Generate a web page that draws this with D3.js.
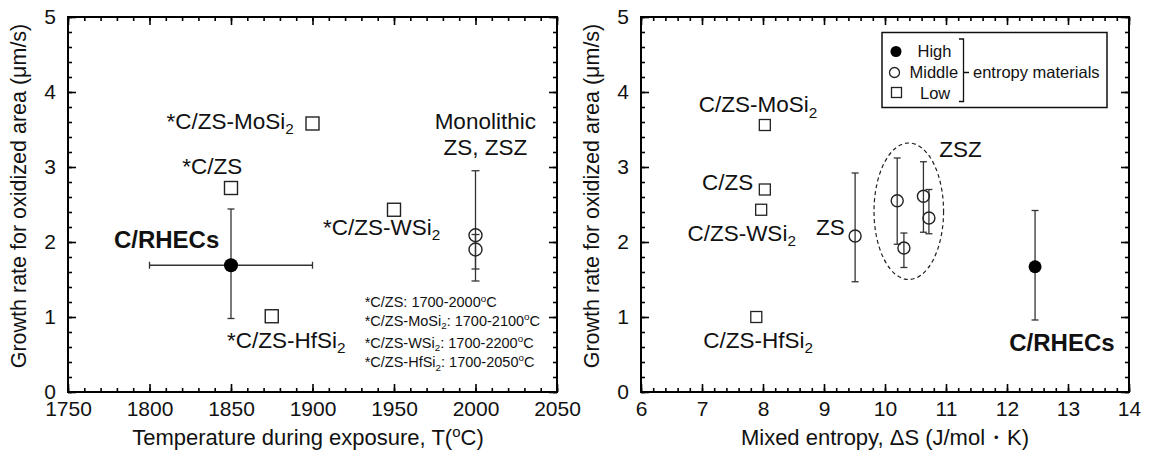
<!DOCTYPE html>
<html>
<head>
<meta charset="utf-8">
<script src="https://cdn.jsdelivr.net/npm/d3@7"></script>
<style>
  body { margin: 0; background: #fff; }
  text { font-family: "Liberation Sans", Arial, sans-serif; fill: #111; }
</style>
</head>
<body>
<svg id="fig"></svg>
<script>
// ---- left panel: growth rate vs exposure temperature ----
var tempLowNames = ["*C/ZS", "*C/ZS-MoSi_2", "*C/ZS-WSi_2", "*C/ZS-HfSi_2"];
var tempLowX = [1850, 1900, 1950, 1875];
var tempLowY = [2.72, 3.58, 2.43, 1.01];
var tempMidX = [2000, 2000];
var tempMidY = [2.09, 1.90];
var tempMidLo = [1.48, 1.64];
var tempMidHi = [2.95, 2.10];
var tempHighX = [1850];
var tempHighY = [1.69];
var tempHighXLo = [1800];
var tempHighXHi = [1900];
var tempHighYLo = [0.98];
var tempHighYHi = [2.44];
var tempTicks = [1750, 1800, 1850, 1900, 1950, 2000, 2050];
var notes = ["*C/ZS: 1700-2000^oC", "*C/ZS-MoSi_2: 1700-2100^oC", "*C/ZS-WSi_2: 1700-2200^oC", "*C/ZS-HfSi_2: 1700-2050^oC"];

// ---- right panel: growth rate vs mixed entropy ----
var entLowNames = ["C/ZS-MoSi_2", "C/ZS", "C/ZS-WSi_2", "C/ZS-HfSi_2"];
var entLowX = [8.03, 8.03, 7.97, 7.89];
var entLowY = [3.56, 2.70, 2.43, 1.00];
var entMidX = [9.51, 10.20, 10.31, 10.63, 10.72];
var entMidY = [2.08, 2.55, 1.92, 2.61, 2.32];
var entMidLo = [1.47, 1.97, 1.66, 2.13, 2.11];
var entMidHi = [2.92, 3.12, 2.12, 3.07, 2.70];
var entHighX = [12.46];
var entHighY = [1.67];
var entHighLo = [0.96];
var entHighHi = [2.42];
var entTicks = [6, 7, 8, 9, 10, 11, 12, 13, 14];

var rateTicks = [0, 1, 2, 3, 4, 5];

var W = 1149, H = 451;
var svg = d3.select("#fig").attr("width", W).attr("height", H);
svg.append("rect").attr("width", W).attr("height", H).attr("fill", "#fff");

var plotTop = 17, plotBottom = 392;
var ink = "#222";
var labelSize = 22.5;

// text with _sub and ^sup pieces
function rich(g, str, x, y, size, anchor, weight) {
    var t = g.append("text").attr("x", x).attr("y", y)
        .attr("text-anchor", anchor || "start")
        .style("font-size", size + "px")
        .style("font-weight", weight || "normal");
    var parts = str.split(/([_^].)/);
    var shift = 0;
    parts.forEach(function(p) {
        if (p === "") return;
        if (p[0] === "_" || p[0] === "^") {
            var d = p[0] === "_" ? size * 0.25 : -size * 0.38;
            t.append("tspan").attr("dy", d).style("font-size", (size * 0.68) + "px").text(p[1]);
            shift = -d;
        } else {
            var s = t.append("tspan").text(p);
            if (shift) s.attr("dy", shift);
            shift = 0;
        }
    });
    return t;
}

function panel(x0, x1, xDomain, xTicks, xMinorStep) {
    var x = d3.scaleLinear().domain(xDomain).range([x0, x1]);
    var y = d3.scaleLinear().domain([0, 5]).range([plotBottom, plotTop]);
    var g = svg.append("g");

    var xMinor = d3.range(xDomain[0], xDomain[1] + 1e-9, xMinorStep);
    var yMinor = d3.range(0, 5 + 1e-9, 0.2);

    // minor ticks on all sides
    g.append("g").attr("transform", "translate(0," + plotBottom + ")")
        .call(d3.axisBottom(x).tickValues(xMinor).tickSize(-4).tickFormat(""));
    g.append("g").attr("transform", "translate(0," + plotTop + ")")
        .call(d3.axisTop(x).tickValues(xMinor).tickSize(-4).tickFormat(""));
    g.append("g").attr("transform", "translate(" + x0 + ",0)")
        .call(d3.axisLeft(y).tickValues(yMinor).tickSize(-4).tickFormat(""));
    g.append("g").attr("transform", "translate(" + x1 + ",0)")
        .call(d3.axisRight(y).tickValues(yMinor).tickSize(-4).tickFormat(""));

    // major ticks + labels
    g.append("g").attr("transform", "translate(0," + plotBottom + ")")
        .call(d3.axisBottom(x).tickValues(xTicks).tickSize(-8).tickPadding(9).tickFormat(d3.format("d")));
    g.append("g").attr("transform", "translate(0," + plotTop + ")")
        .call(d3.axisTop(x).tickValues(xTicks).tickSize(-8).tickFormat(""));
    g.append("g").attr("transform", "translate(" + x0 + ",0)")
        .call(d3.axisLeft(y).tickValues(rateTicks).tickSize(-8).tickPadding(12).tickFormat(d3.format("d")));
    g.append("g").attr("transform", "translate(" + x1 + ",0)")
        .call(d3.axisRight(y).tickValues(rateTicks).tickSize(-8).tickFormat(""));

    g.selectAll(".domain").remove();
    g.selectAll(".tick line").attr("stroke", "#000").attr("stroke-width", 1.6);
    g.selectAll(".tick text").style("font-size", "21px").attr("fill", "#111")
        .style("font-family", '"Liberation Sans", Arial, sans-serif');

    g.append("rect").attr("x", x0).attr("y", plotTop).attr("width", x1 - x0).attr("height", plotBottom - plotTop)
        .attr("fill", "none").attr("stroke", "#000").attr("stroke-width", 2);

    // y title
    g.append("text")
        .attr("transform", "translate(" + (x0 - 42) + "," + 196 + ") rotate(-90)")
        .attr("text-anchor", "middle")
        .style("font-size", "21.5px")
        .text("Growth rate for oxidized area (\u03bcm/s)");

    return { g: g, x: x, y: y };
}

function vbar(g, x, y, xv, lo, hi, cap) {
    g.append("line").attr("x1", x(xv)).attr("x2", x(xv)).attr("y1", y(lo)).attr("y2", y(hi))
        .attr("stroke", "#333").attr("stroke-width", 1.3);
    [lo, hi].forEach(function(v) {
        g.append("line").attr("x1", x(xv) - cap).attr("x2", x(xv) + cap).attr("y1", y(v)).attr("y2", y(v))
            .attr("stroke", "#333").attr("stroke-width", 1.3);
    });
}

function hbar(g, x, y, yv, lo, hi, cap) {
    g.append("line").attr("x1", x(lo)).attr("x2", x(hi)).attr("y1", y(yv)).attr("y2", y(yv))
        .attr("stroke", "#333").attr("stroke-width", 1.3);
    [lo, hi].forEach(function(v) {
        g.append("line").attr("x1", x(v)).attr("x2", x(v)).attr("y1", y(yv) - cap).attr("y2", y(yv) + cap)
            .attr("stroke", "#333").attr("stroke-width", 1.3);
    });
}

// ================= left panel =================
var L = panel(68, 557, [1750, 2050], tempTicks, 10);
var gl = L.g, xl = L.x, yl = L.y;

tempMidX.forEach(function(v, i) { vbar(gl, xl, yl, v, tempMidLo[i], tempMidHi[i], 4); });
hbar(gl, xl, yl, tempHighY[0], tempHighXLo[0], tempHighXHi[0], 3.5);
vbar(gl, xl, yl, tempHighX[0], tempHighYLo[0], tempHighYHi[0], 3.5);

gl.selectAll(".low").data(tempLowX).enter().append("rect")
    .attr("x", function(d) { return xl(d) - 6.5; })
    .attr("y", function(d, i) { return yl(tempLowY[i]) - 6.5; })
    .attr("width", 13).attr("height", 13)
    .attr("fill", "#fff").attr("stroke", ink).attr("stroke-width", 1.4);

gl.selectAll(".mid").data(tempMidX).enter().append("circle")
    .attr("cx", function(d) { return xl(d); })
    .attr("cy", function(d, i) { return yl(tempMidY[i]); })
    .attr("r", 6.5).attr("fill", "none").attr("stroke", ink).attr("stroke-width", 1.4);

gl.selectAll(".high").data(tempHighX).enter().append("circle")
    .attr("cx", function(d) { return xl(d); })
    .attr("cy", function(d, i) { return yl(tempHighY[i]); })
    .attr("r", 7).attr("fill", "#000");

// labels
rich(gl, tempLowNames[1], xl(1888.5), yl(3.51), labelSize, "end");
rich(gl, tempLowNames[0], xl(1838.5), yl(2.91), labelSize, "middle");
rich(gl, tempLowNames[2], xl(1906.5), yl(2.10), labelSize, "start");
rich(gl, tempLowNames[3], xl(1847.5), yl(0.59), labelSize, "start");
rich(gl, "C/RHECs", xl(1810.5), yl(1.92), 24, "middle", "bold");
rich(gl, "Monolithic", xl(2006), yl(3.51), labelSize, "middle");
rich(gl, "ZS, ZSZ", xl(2006), yl(3.16), labelSize, "middle");
var noteY = [1.127, 0.882, 0.592, 0.334];
notes.forEach(function(s, i) { rich(gl, s, xl(1932), yl(noteY[i]), 14.5, "start"); });

gl.append("text").attr("x", 308).attr("y", 445).attr("text-anchor", "middle")
    .style("font-size", "22px")
    .call(function(t) {
        t.append("tspan").text("Temperature during exposure, T(");
        t.append("tspan").attr("dy", -8).style("font-size", "15px").text("o");
        t.append("tspan").attr("dy", 8).text("C)");
    });

// ================= right panel =================
var R = panel(641, 1129, [6, 14], entTicks, 0.2);
var gr = R.g, xr = R.x, yr = R.y;

// dashed ellipse around the ZSZ group
gr.append("ellipse")
    .attr("cx", xr(10.39)).attr("cy", yr(2.41))
    .attr("rx", xr(10.96) - xr(10.39)).attr("ry", yr(1.50) - yr(2.41))
    .attr("fill", "none").attr("stroke", "#222").attr("stroke-width", 1.2)
    .attr("stroke-dasharray", "4,3");

entMidX.forEach(function(v, i) { vbar(gr, xr, yr, v, entMidLo[i], entMidHi[i], 3.5); });
vbar(gr, xr, yr, entHighX[0], entHighLo[0], entHighHi[0], 3.5);

gr.selectAll(".low").data(entLowX).enter().append("rect")
    .attr("x", function(d) { return xr(d) - 5.5; })
    .attr("y", function(d, i) { return yr(entLowY[i]) - 5.5; })
    .attr("width", 11).attr("height", 11)
    .attr("fill", "#fff").attr("stroke", ink).attr("stroke-width", 1.3);

gr.selectAll(".mid").data(entMidX).enter().append("circle")
    .attr("cx", function(d) { return xr(d); })
    .attr("cy", function(d, i) { return yr(entMidY[i]); })
    .attr("r", 6).attr("fill", "none").attr("stroke", ink).attr("stroke-width", 1.4);

gr.selectAll(".high").data(entHighX).enter().append("circle")
    .attr("cx", function(d) { return xr(d); })
    .attr("cy", function(d, i) { return yr(entHighY[i]); })
    .attr("r", 6.5).attr("fill", "#000");

rich(gr, entLowNames[0], xr(7.92), yr(3.73), labelSize, "middle");
rich(gr, entLowNames[1], xr(7.84), yr(2.69), labelSize, "end");
rich(gr, entLowNames[2], xr(7.65), yr(2.02), labelSize, "middle");
rich(gr, entLowNames[3], xr(7.92), yr(0.59), labelSize, "middle");
rich(gr, "ZS", xr(9.34), yr(2.09), labelSize, "end");
rich(gr, "ZSZ", xr(10.89), yr(3.13), labelSize, "start");
rich(gr, "C/RHECs", xr(12.90), yr(0.55), 24, "middle", "bold");

gr.append("text").attr("x", 885).attr("y", 445).attr("text-anchor", "middle")
    .style("font-size", "22px")
    .text("Mixed entropy, \u0394S (J/mol\u30fbK)");

// legend
var lg = svg.append("g");
lg.append("rect").attr("x", 882).attr("y", 32.5).attr("width", 225).attr("height", 75)
    .attr("fill", "#fff").attr("stroke", "#111").attr("stroke-width", 1.5);
lg.append("circle").attr("cx", 896).attr("cy", 51.5).attr("r", 5.5).attr("fill", "#000");
lg.append("circle").attr("cx", 894.5).attr("cy", 72.5).attr("r", 5).attr("fill", "none").attr("stroke", ink).attr("stroke-width", 1.3);
lg.append("rect").attr("x", 891.5).attr("y", 87.5).attr("width", 10).attr("height", 10)
    .attr("fill", "none").attr("stroke", ink).attr("stroke-width", 1.3);
lg.append("text").attr("x", 917.5).attr("y", 57).style("font-size", "16.5px").text("High");
lg.append("text").attr("x", 909.5).attr("y", 78).style("font-size", "16.5px").text("Middle");
lg.append("text").attr("x", 920).attr("y", 98.5).style("font-size", "16.5px").text("Low");
lg.append("path")
    .attr("d", "M959,39 H963.5 V101.5 H959 M963.5,72.5 H969")
    .attr("fill", "none").attr("stroke", "#111").attr("stroke-width", 1.3);
lg.append("text").attr("x", 973).attr("y", 78).style("font-size", "16.5px").text("entropy materials");
</script>
</body>
</html>
